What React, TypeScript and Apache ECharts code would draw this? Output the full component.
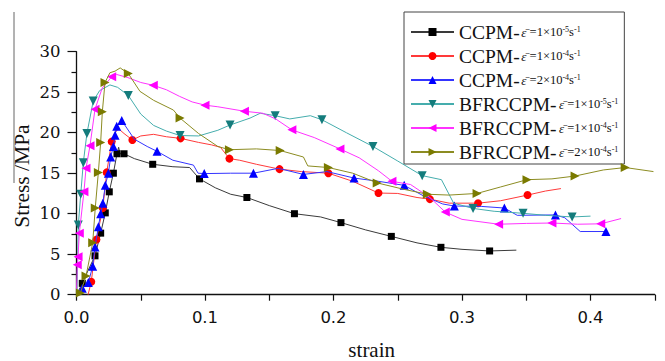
import React, { useEffect, useRef } from "react";
import * as echarts from "echarts";

// [strain, stress, marker(1) or plain point(0)]
const ccpm1e5: number[][] = [
  [0, 0, 0], [0.0045, 1.4, 1], [0.009, 3.0, 0], [0.0144, 4.8, 1], [0.0188, 7.6, 1], [0.0224, 10.1, 1],
  [0.0255, 12.7, 1], [0.0287, 15.0, 1], [0.0315, 17.4, 1], [0.0328, 18.2, 0], [0.0338, 17.4, 0],
  [0.037, 17.4, 1], [0.045, 16.8, 0], [0.0593, 16.1, 1], [0.075, 15.8, 0], [0.088, 15.7, 0],
  [0.0957, 14.3, 1], [0.108, 13.2, 0], [0.12, 12.4, 0], [0.1326, 12.0, 1], [0.15, 11.0, 0],
  [0.1696, 10.0, 1], [0.19, 9.6, 0], [0.2058, 8.9, 1], [0.225, 8.0, 0], [0.245, 7.2, 1],
  [0.265, 6.4, 0], [0.2836, 5.85, 1], [0.3, 5.6, 0], [0.3215, 5.4, 1], [0.3423, 5.5, 0],
];
const ccpm1e4: number[][] = [
  [0.009, 0, 0], [0.0115, 1.6, 1], [0.0155, 6.8, 1], [0.0205, 10.7, 1], [0.0235, 15.1, 1],
  [0.0274, 18.9, 1], [0.03, 20.0, 0], [0.0326, 20.5, 0], [0.037, 19.9, 0], [0.0435, 19.1, 1],
  [0.05, 19.6, 0], [0.06, 19.8, 0], [0.07, 19.5, 0], [0.081, 19.3, 1], [0.095, 18.8, 0],
  [0.105, 18.5, 0], [0.112, 18.2, 0], [0.119, 16.8, 1], [0.127, 16.6, 0], [0.14, 16.1, 0],
  [0.158, 15.5, 1], [0.175, 15.2, 0], [0.196, 15.0, 1], [0.215, 14.0, 0], [0.235, 12.55, 1],
  [0.25, 12.5, 0], [0.265, 12.0, 0], [0.275, 11.8, 1], [0.29, 11.3, 0], [0.3125, 11.3, 1],
  [0.33, 11.6, 0], [0.351, 12.3, 1], [0.365, 12.8, 0], [0.377, 13.1, 0],
];
const ccpm2e4: number[][] = [
  [0.003, 0, 0], [0.0045, 0.8, 1], [0.0092, 1.5, 1], [0.0126, 3.5, 1], [0.0144, 5.9, 1],
  [0.017, 8.4, 1], [0.0188, 10.0, 1], [0.0205, 11.3, 1], [0.0224, 13.5, 1], [0.0248, 15.0, 1],
  [0.0266, 17.0, 1], [0.0287, 18.3, 1], [0.03, 19.7, 1], [0.0313, 20.8, 1], [0.0352, 21.5, 1],
  [0.045, 19.2, 0], [0.055, 18.3, 0], [0.0627, 17.7, 1], [0.075, 16.6, 0], [0.091, 16.0, 0],
  [0.0946, 15.0, 0], [0.0994, 14.95, 1], [0.12, 15.0, 0], [0.1377, 15.0, 1], [0.157, 15.6, 0],
  [0.1766, 14.85, 1], [0.195, 15.2, 0], [0.216, 14.4, 1], [0.235, 14.0, 0], [0.255, 13.5, 1],
  [0.27, 12.2, 0], [0.285, 11.2, 0], [0.294, 10.95, 1], [0.315, 10.9, 0], [0.333, 10.7, 1],
  [0.343, 9.8, 0], [0.3727, 9.85, 1], [0.38, 9.5, 0], [0.392, 7.8, 0], [0.412, 7.8, 1],
];
const bfr1e5: number[][] = [
  [0.0003, 0, 0], [0.0008, 3.5, 0], [0.0014, 8.6, 1], [0.0033, 12.4, 1], [0.0053, 16.3, 1],
  [0.0081, 19.9, 1], [0.013, 23.9, 1], [0.018, 25.2, 0], [0.026, 25.9, 0], [0.032, 25.6, 0],
  [0.0403, 24.6, 1], [0.05, 22.3, 0], [0.06, 20.9, 0], [0.07, 20.2, 0], [0.0806, 19.65, 1],
  [0.095, 19.6, 0], [0.11, 20.3, 0], [0.1195, 20.95, 1], [0.135, 21.8, 0], [0.143, 22.4, 0],
  [0.1546, 22.1, 1], [0.166, 21.7, 0], [0.182, 22.1, 0], [0.191, 21.6, 1], [0.21, 20.0, 0],
  [0.2307, 18.3, 1], [0.25, 16.5, 0], [0.269, 14.7, 1], [0.284, 14.2, 0], [0.2935, 11.3, 0],
  [0.3086, 10.65, 1], [0.325, 10.3, 0], [0.3475, 10.05, 1], [0.365, 9.8, 0], [0.3857, 9.6, 1],
  [0.4, 9.7, 0],
];
const bfr1e4: number[][] = [
  [0, 0, 0], [0.0006, 3.7, 1], [0.0012, 4.7, 1], [0.0022, 7.6, 1], [0.0058, 12.7, 1],
  [0.0074, 15.6, 1], [0.0105, 18.4, 1], [0.0144, 22.9, 1], [0.02, 25.5, 0], [0.0274, 26.9, 1],
  [0.031, 27.2, 0], [0.04, 26.8, 0], [0.05, 26.2, 0], [0.0598, 25.85, 1], [0.07, 25.3, 0],
  [0.08, 24.5, 0], [0.09, 23.8, 0], [0.1, 23.4, 1], [0.11, 23.2, 0], [0.1307, 22.65, 1],
  [0.145, 22.4, 0], [0.155, 21.7, 0], [0.1676, 20.35, 1], [0.185, 19.4, 0], [0.205, 18.0, 1],
  [0.22, 16.9, 0], [0.235, 15.3, 0], [0.2455, 14.0, 1], [0.26, 13.6, 0], [0.275, 12.0, 0],
  [0.287, 10.2, 1], [0.3, 9.3, 0], [0.3285, 8.7, 1], [0.35, 8.8, 0], [0.37, 8.85, 1],
  [0.39, 8.7, 0], [0.408, 8.75, 1], [0.4238, 9.4, 0],
];
const bfr2e4: number[][] = [
  [0.001, 0, 0], [0.003, 0.2, 1], [0.0074, 2.3, 1], [0.0126, 6.4, 1], [0.0146, 10.7, 1],
  [0.017, 15.1, 1], [0.0188, 18.8, 1], [0.0201, 22.6, 1], [0.0222, 26.2, 1], [0.026, 27.4, 0],
  [0.03, 27.6, 0], [0.034, 28.0, 0], [0.0403, 27.3, 1], [0.0494, 25.1, 0], [0.06, 24.0, 0],
  [0.0754, 22.8, 0], [0.0806, 21.8, 1], [0.095, 19.9, 0], [0.11, 18.3, 0], [0.119, 17.9, 1],
  [0.14, 18.0, 0], [0.1585, 17.8, 1], [0.1766, 17.0, 0], [0.18, 15.9, 0], [0.196, 15.7, 1],
  [0.215, 15.0, 0], [0.234, 13.8, 1], [0.255, 13.0, 0], [0.273, 12.4, 1], [0.29, 12.3, 0],
  [0.3117, 12.5, 1], [0.33, 13.3, 0], [0.3506, 14.2, 1], [0.37, 14.3, 0], [0.388, 14.65, 1],
  [0.41, 15.4, 0], [0.427, 15.7, 1], [0.449, 15.2, 0],
];

const seriesNames = [
  "CCPM- ε̄ =1×10-5s-1",
  "CCPM- ε̄ =1×10-4s-1",
  "CCPM- ε̄ =2×10-4s-1",
  "BFRCCPM- ε̄ =1×10-5s-1",
  "BFRCCPM- ε̄ =1×10-4s-1",
  "BFRCCPM- ε̄ =2×10-4s-1",
];
const legendPrefix = ["CCPM-", "CCPM-", "CCPM-", "BFRCCPM-", "BFRCCPM-", "BFRCCPM-"];
const legendMantissa = ["1", "1", "2", "1", "1", "2"];
const legendExponent = ["-5", "-4", "-4", "-5", "-4", "-4"];

const xTickLabels = ["0.0", "0.1", "0.2", "0.3", "0.4"];
const yTickLabels = ["0", "5", "10", "15", "20", "25", "30"];

const seriesData = [ccpm1e5, ccpm1e4, ccpm2e4, bfr1e5, bfr1e4, bfr2e4];
const symbols = ["rect", "circle", "triangle", "triangle", "triangle", "triangle"];
const rotations = [0, 0, 0, 180, 90, -90];
const sizes = [7, 8, 9, 9, 9, 9];
const markColors = ["#000000", "#ff0000", "#0000ff", "#147c7c", "#ff00ff", "#7a7a00"];
const lineColors = ["#3a3a3a", "#ff3a3a", "#3434ff", "#45adad", "#ff33ff", "#8c8c22"];

export default function App() {
  const ref = useRef<HTMLDivElement>(null);
  useEffect(() => {
    if (!ref.current) return;
    const chart = echarts.init(ref.current, undefined, { renderer: "svg" });
    const serif = "'Liberation Serif', 'Times New Roman', serif";
    const series = seriesData.map((d, i) => ({
      name: seriesNames[i],
      type: "line",
      showAllSymbol: true,
      symbol: symbols[i],
      symbolRotate: rotations[i],
      symbolSize: sizes[i],
      itemStyle: { color: markColors[i] },
      lineStyle: { color: lineColors[i], width: 1 },
      data: d.map((p) =>
        p[2] ? { value: [p[0], p[1]] } : { value: [p[0], p[1]], symbol: "none" }
      ),
      z: 2 + i,
    }));
    chart.setOption({
      animation: false,
      backgroundColor: "#ffffff",
      grid: { left: 76.5, right: 10.25, top: 51.7, bottom: 66.3, containLabel: false },
      legend: {
        orient: "vertical",
        left: 404,
        top: 12,
        padding: [10, 6, 2, 6],
        itemGap: 4,
        itemWidth: 43,
        itemHeight: 10,
        borderColor: "#444",
        borderWidth: 1,
        backgroundColor: "#ffffff",
        data: seriesNames,
        formatter: (name: string) => {
          const i = seriesNames.indexOf(name);
          const gap = i < 3 ? "{g1| }" : "{g2| }";
          return `{a|${legendPrefix[i]}}${gap}{e|ε̄}{c| =${legendMantissa[i]}×10}{s|${legendExponent[i]}}{c|s}{s|-1}`;
        },
        textStyle: {
          rich: {
            a: { fontFamily: serif, fontSize: 19.5, color: "#111", lineHeight: 20 },
            g1: { fontSize: 6 },
            g2: { fontSize: 9 },
            e: { fontFamily: serif, fontSize: 13, fontStyle: "italic", color: "#111" },
            c: { fontFamily: serif, fontSize: 12.5, color: "#111" },
            s: { fontFamily: serif, fontSize: 8, color: "#111", verticalAlign: "top", padding: [3, 0, 0, 0] },
          },
        },
      },
      xAxis: {
        type: "value",
        min: 0,
        max: 0.45,
        interval: 0.05,
        axisLine: { show: true, lineStyle: { color: "#111", width: 1.3 } },
        axisTick: { show: true, inside: false, length: 6, lineStyle: { color: "#111", width: 1.2 } },
        splitLine: { show: false },
        axisLabel: {
          margin: 14,
          fontFamily: "'DejaVu Sans', sans-serif",
          fontSize: 16.5,
          color: "#111",
          formatter: (v: number) => {
            const k = Math.round(v * 100);
            return k % 10 === 0 ? xTickLabels[k / 10] : "";
          },
        },
      },
      yAxis: {
        type: "value",
        min: 0,
        max: 30,
        interval: 5,
        axisLine: { show: true, lineStyle: { color: "#111", width: 1.3 } },
        axisTick: { show: true, inside: false, length: 9, lineStyle: { color: "#111", width: 1.2 } },
        minorTick: { show: true, splitNumber: 2, length: 5, lineStyle: { color: "#111", width: 1.2 } },
        splitLine: { show: false },
        axisLabel: {
          margin: 16,
          fontFamily: "'DejaVu Serif', serif",
          fontSize: 16.5,
          color: "#111",
          formatter: (v: number) => yTickLabels[Math.round(v / 5)],
        },
      },
      graphic: [
        {
          type: "line",
          shape: { x1: 14, y1: 12, x2: 14, y2: 183 },
          style: { stroke: "#666", lineWidth: 1 },
        },
        {
          type: "text",
          x: 22,
          y: 176,
          rotation: Math.PI / 2,
          style: {
            text: "Stress /MPa",
            fontFamily: serif,
            fontSize: 21.5,
            fill: "#111",
            textAlign: "center",
            textVerticalAlign: "middle",
          },
        },
        {
          type: "text",
          x: 371.7,
          y: 360,
          style: {
            text: "strain",
            fontFamily: serif,
            fontSize: 21,
            fill: "#111",
            textAlign: "center",
            textVerticalAlign: "bottom",
          },
        },
      ],
      series,
    });
    return () => chart.dispose();
  }, []);
  return (
    <div
      ref={ref}
      style={{ position: "absolute", left: 0, top: 0, width: 665, height: 361 }}
    />
  );
}
